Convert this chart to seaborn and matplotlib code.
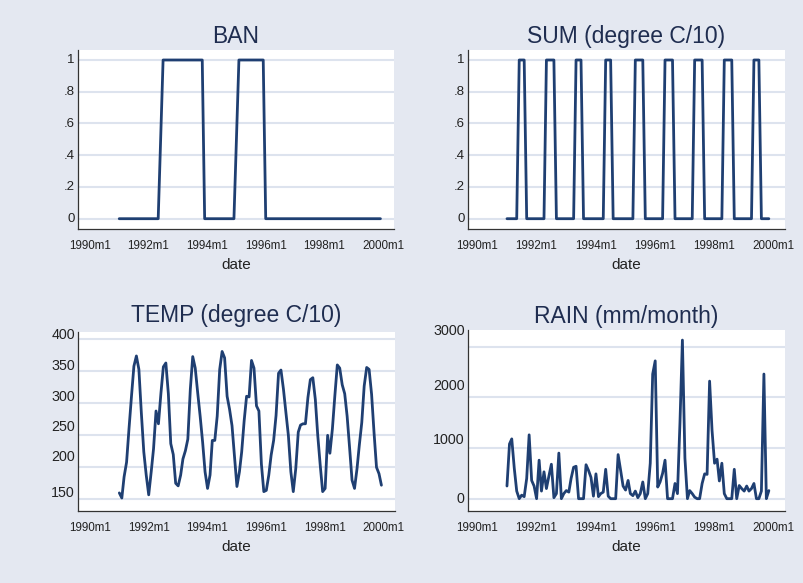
import numpy as np
import pandas as pd
import seaborn as sns
import matplotlib.pyplot as plt
from matplotlib.transforms import ScaledTranslation

nan = np.nan

# monthly data 1991m1 - 1999m12
dates = pd.date_range('1991-01-01', periods=108, freq='MS')

ban = [0, 0, 0, 0, 0, 0, 0, 0, 0, 0, 0, 0,
       0, 0, 0, 0, 0, nan, 1, 1, 1, 1, 1, 1,
       1, 1, 1, 1, 1, 1, 1, 1, 1, 1, 1, 0,
       0, 0, 0, 0, 0, 0, 0, 0, 0, 0, 0, 0,
       nan, 1, 1, 1, 1, 1, 1, 1, 1, 1, 1, 1,
       0, 0, 0, 0, 0, 0, 0, 0, 0, 0, 0, 0,
       0, 0, 0, 0, 0, 0, 0, 0, 0, 0, 0, 0,
       0, 0, 0, 0, 0, 0, 0, 0, 0, 0, 0, 0,
       0, 0, 0, 0, 0, 0, 0, 0, 0, 0, 0, 0]

summer = [0, 0, 0, 0, 0, 1, 1, 1, 0, 0, 0, 0,
          0, 0, 0, 0, 1, 1, 1, 1, 0, 0, 0, 0,
          0, 0, 0, 0, 1, 1, 1, 0, 0, 0, 0, 0,
          0, 0, 0, 0, 1, 1, 1, 0, 0, 0, 0, 0,
          0, 0, 0, 0, 1, 1, 1, 1, 0, 0, 0, 0,
          0, 0, 0, 0, 1, 1, 1, 1, 0, 0, 0, 0,
          0, 0, 0, 0, 1, 1, 1, 1, 0, 0, 0, 0,
          0, 0, 0, 0, 1, 1, 1, 1, 0, 0, 0, 0,
          0, 0, 0, 0, 1, 1, 1, 0, 0, 0, 0, nan]

temp = [160, 152, 185, 208, 260, 311, 358, 374, 353, 286, 224, 188,
        157, 193, 229, 288, 268, 316, 357, 363, 315, 237, 220, 175,
        171, 188, 213, 226, 244, 322, 373, 355, 316, 280, 239, 193,
        167, 188, 242, 242, 280, 353, 381, 371, 311, 291, 265, 218,
        170, 193, 224, 273, 311, 310, 367, 355, 296, 288, 205, 162,
        164, 188, 219, 242, 281, 347, 352, 322, 285, 250, 193, 162,
        198, 255, 266, 268, 268, 309, 337, 340, 306, 250, 203, 162,
        167, 250, 222, 260, 311, 360, 355, 329, 315, 280, 230, 180,
        167, 198, 234, 270, 327, 356, 353, 314, 253, 200, 190, 172]

rain = [250, 1080, 1180, 600, 150, 0, 70, 40, 400, 1260, 360, 250,
        0, 760, 150, 530, 200, 450, 680, 20, 100, 900, 0, 100,
        160, 130, 400, 620, 640, 0, 0, 0, 670, 560, 420, 50,
        490, 40, 100, 130, 580, 50, 0, 0, 0, 870, 560, 250,
        170, 360, 100, 60, 150, 20, 100, 330, 0, 100, 700, 2460,
        2720, 230, 330, 500, 760, 0, 0, 0, 300, 100, 1500, 3130,
        800, 0, 160, 100, 30, 0, 0, 300, 490, 480, 2320, 1350,
        700, 780, 350, 700, 100, 0, 0, 0, 580, 0, 260, 200,
        150, 250, 150, 200, 300, 0, 0, 150, 2460, 0, 160, nan]

titles = ['BAN', 'SUM (degree C/10)', 'TEMP (degree C/10)', 'RAIN (mm/month)']
xtick_years = [1990, 1992, 1994, 1996, 1998, 2000]
xtick_labels = ['1990m1', '1992m1', '1994m1', '1996m1', '1998m1', '2000m1']
yticks_01 = [0, .2, .4, .6, .8, 1]
ylabels_01 = ['0', '.2', '.4', '.6', '.8', '1']
yticks_temp = [150, 200, 250, 300, 350, 400]
yticks_rain = [0, 1000, 2000, 3000]

bg = '#e4e8f1'
navy = '#1f3f72'

sns.set_style('white')
plt.rcParams['font.family'] = ['Liberation Sans', 'DejaVu Sans']

W, H = 804, 583
fig = plt.figure(figsize=(W / 100, H / 100), dpi=100)
fig.patch.set_facecolor(bg)


def panel(rect, values, title, yticks, ylabels, ylim, xlim_months, ysize,
          label_shift, title_pad):
    l, t, r, b = rect
    ax = fig.add_axes([l / W, 1 - b / H, (r - l) / W, (b - t) / H])
    ax.set_facecolor('white')
    df = pd.DataFrame({'date': dates, 'value': values}).dropna()
    sns.lineplot(data=df, x='date', y='value', ax=ax, color=navy,
                 linewidth=2.0, estimator=None)
    start = pd.Timestamp('1990-01-01')
    ax.set_xlim(start + pd.Timedelta(days=30.44 * xlim_months[0]),
                start + pd.Timedelta(days=30.44 * xlim_months[1]))
    ax.set_ylim(*ylim)
    ax.set_xticks([pd.Timestamp(f'{y}-01-01') for y in xtick_years])
    ax.set_xticklabels(xtick_labels, fontsize=8.4, color='#222222')
    ax.set_yticks(yticks)
    ax.set_yticklabels(ylabels, fontsize=ysize, color='#222222')
    ax.yaxis.grid(True, color='#dde3ee', linewidth=1.5)
    ax.xaxis.grid(False)
    ax.set_axisbelow(True)
    for side in ['top', 'right']:
        ax.spines[side].set_visible(False)
    for side in ['left', 'bottom']:
        ax.spines[side].set_color('#333333')
        ax.spines[side].set_linewidth(0.9)
    ax.tick_params(axis='x', direction='out', length=4.3, width=0.8,
                   color='#333333', pad=3.5)
    ax.tick_params(axis='y', direction='out', length=3.6, width=0.8,
                   color='#333333', pad=-1.5)
    for lab, dy in zip(ax.get_yticklabels(), label_shift):
        lab.set_transform(lab.get_transform() +
                          ScaledTranslation(0, dy / 100, fig.dpi_scale_trans))
    ax.set_xlabel('date', fontsize=11, color='#222222', labelpad=4.5)
    ax.set_ylabel('')
    ax.set_title(title, fontsize=16.5, color='#1f2d50', pad=title_pad)
    return ax


panel((77.7, 50, 394, 228.7), ban, titles[0], yticks_01, ylabels_01,
      (-0.063, 1.063), (-5.0, 124.5), 9.5, [1] * 6, 5)
panel((467.7, 50, 785, 228.7), summer, titles[1], yticks_01, ylabels_01,
      (-0.063, 1.063), (-3.9, 124.5), 9.5, [1] * 6, 5)
panel((77.7, 331.7, 395, 510.7), temp, titles[2], yticks_temp,
      [str(v) for v in yticks_temp], (132.2, 411.9), (-5.0, 124.5), 10.3,
      [7.7, 11.7, 10, 7.7, 7.3, 6], 7)
panel((467.7, 330, 785, 510.7), rain, titles[3], yticks_rain,
      [str(v) for v in yticks_rain], (-237, 3329), (-3.9, 124.5), 10.3,
      [1.3, 9.7, 13, 16.7], 5)

fig.savefig('out.png', dpi=100, facecolor=bg)
